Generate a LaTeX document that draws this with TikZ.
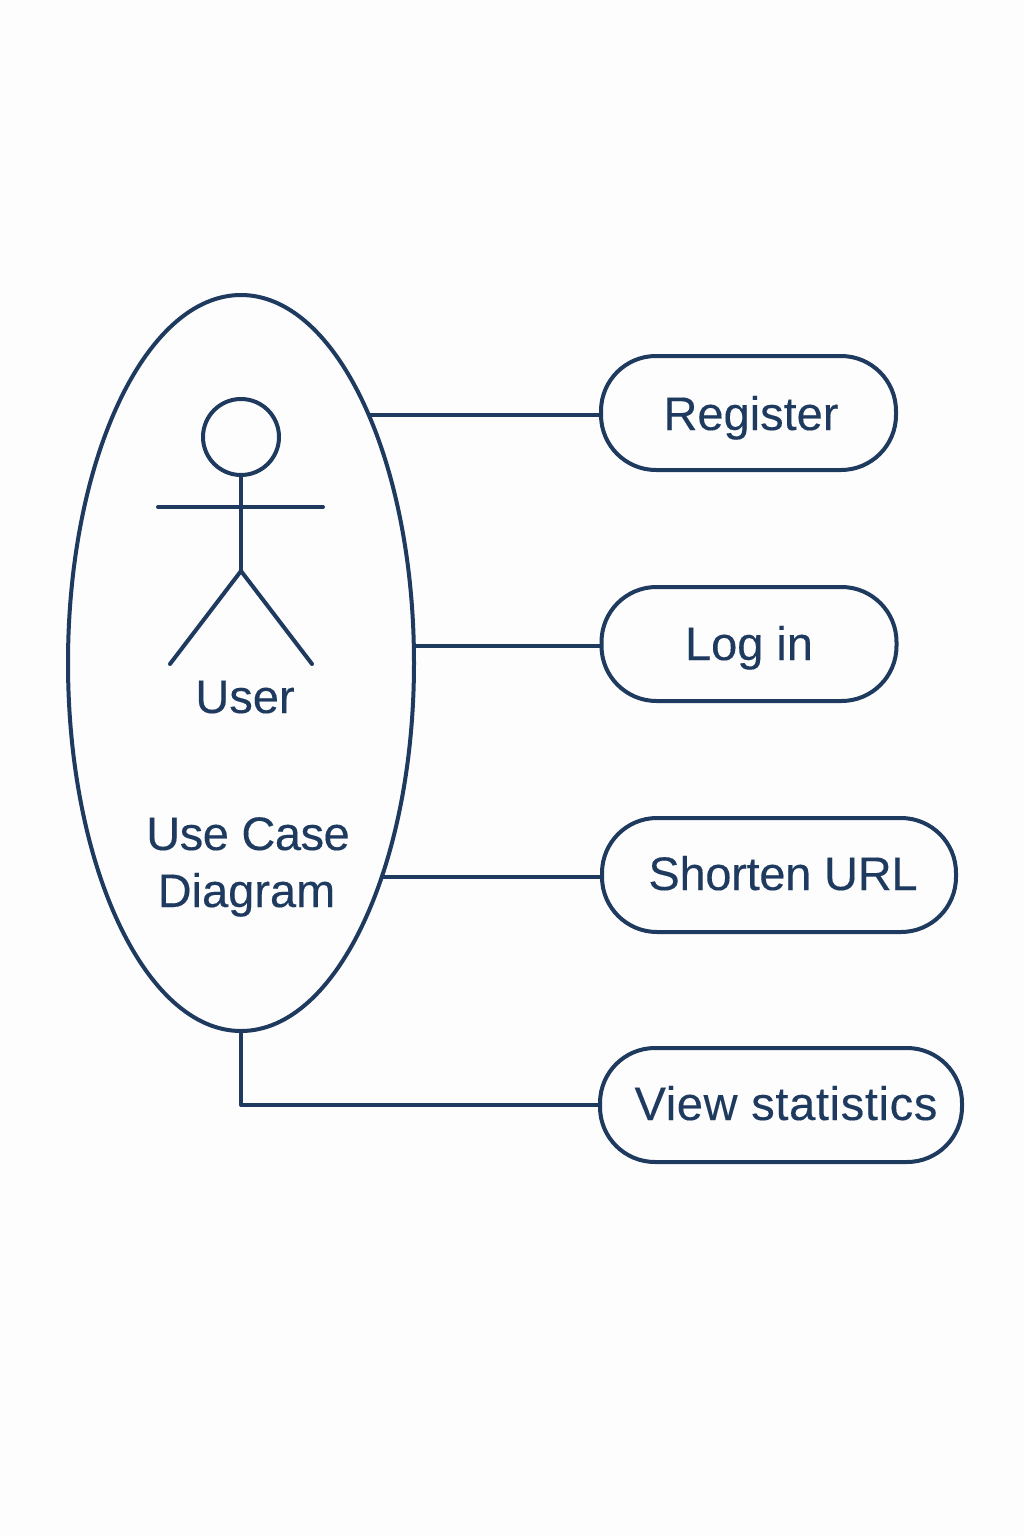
\documentclass[tikz,border=0pt]{standalone}
\usepackage{fontspec}
\setmainfont{Liberation Sans}[FakeBold=0.25]
\usetikzlibrary{shapes.geometric}
\definecolor{ink}{HTML}{1F3A5F}
\definecolor{paper}{HTML}{FDFDFD}
\tikzset{
  x=1pt,y=-1pt,
  wire/.style={draw=ink,line width=4pt,line join=round},
  limb/.style={wire,line cap=round},
  pill/.style={draw=ink,line width=4pt,rounded corners=55pt,outer sep=0pt,inner sep=0pt,anchor=center},
  label/.style={text=ink,font=\fontsize{47}{57}\selectfont,inner sep=0pt,align=center,anchor=base},
}
\begin{document}
\begin{tikzpicture}
\fill[paper] (0,0) rectangle (1024,1536);
\useasboundingbox (0,0) rectangle (1024,1536);
\node[draw=ink,line width=4pt,shape=ellipse,inner sep=0pt,outer sep=0pt,minimum width=346pt,minimum height=736pt] (sys) at (241,663) {};
\node[draw=ink,line width=4pt,shape=circle,inner sep=0pt,outer sep=0pt,minimum size=76pt] (head) at (241,437) {};
\coordinate (hip) at (241,571);
\coordinate (armL) at (158,507);
\coordinate (armR) at (323,507);
\coordinate (footL) at (170,664);
\coordinate (footR) at (312,664);
\draw[limb] (head.south) -- (hip);
\draw[limb] (armL) -- (armR);
\draw[limb] (footL) -- (hip) -- (footR);
\node[label] (user) at (245,713) {User};
\node[label] (titlea) at (248,850) {\addfontfeature{LetterSpace=-1.0}Use Case};
\node[label] (titleb) at (246.5,907) {Diagram};
\node[pill,minimum width=295pt,minimum height=114pt] (reg) at (748.5,413) {};
\node[label] at (751,430) (regt) {Register};
\node[pill,minimum width=295pt,minimum height=114pt] (log) at (749,644) {};
\node[label] at (749,660) (logt) {Log in};
\node[pill,minimum width=354pt,minimum height=114pt] (sho) at (779,875) {};
\node[label] at (783,890) (shot) {\addfontfeature{LetterSpace=-0.6}Shorten URL};
\node[pill,minimum width=362pt,minimum height=114pt] (vie) at (781,1105) {};
\node[label] at (786,1120) (viet) {\addfontfeature{LetterSpace=1.4}View statistics};
\coordinate (ra) at ([xshift=1pt,yshift=-2pt]sys.63.1);
\coordinate (la) at ([yshift=-1pt]sys.6.0);
\coordinate (sa) at ([xshift=1pt,yshift=2pt]sys.-57.1);
\draw[wire] (ra) -- (ra -| reg.west);
\draw[wire] (la) -- (la -| log.west);
\draw[wire] (sa) -- (sa -| sho.west);
\draw[wire] (sys.south) |- (vie.west);
\end{tikzpicture}
\end{document}
